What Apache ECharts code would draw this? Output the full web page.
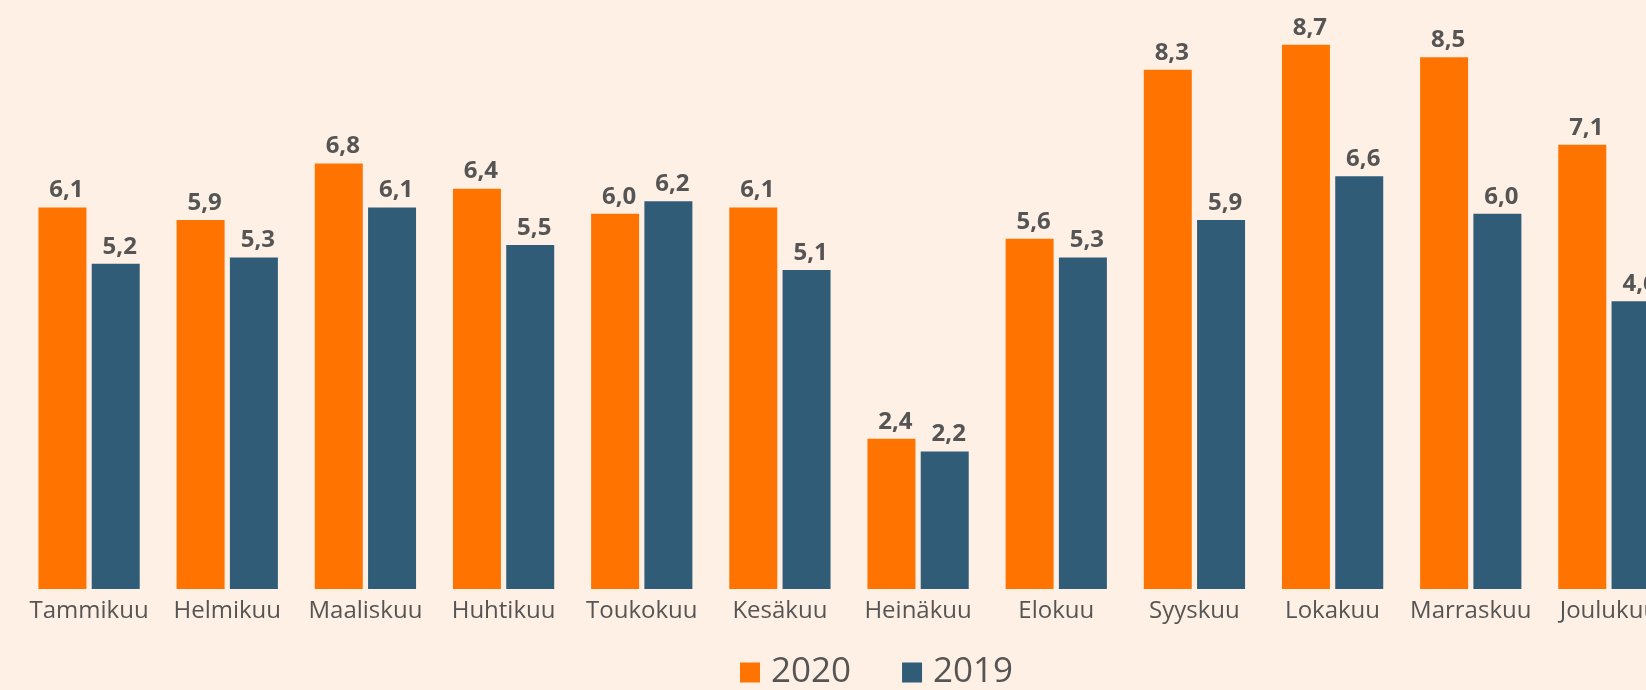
<!DOCTYPE html>
<html>
<head>
<meta charset="utf-8">
<style>
  html, body { margin: 0; padding: 0; background: #fef0e4; }
  #main { width: 1646px; height: 690px; }
</style>
<script src="https://cdn.jsdelivr.net/npm/echarts@6/dist/echarts.min.js"></script>
</head>
<body>
<div id="main"></div>
<script>
// kuukaudet ja arvot
const months = ['Tammikuu', 'Helmikuu', 'Maaliskuu', 'Huhtikuu', 'Toukokuu', 'Kesäkuu',
  'Heinäkuu', 'Elokuu', 'Syyskuu', 'Lokakuu', 'Marraskuu', 'Joulukuu']
const values2020 = [6.1, 5.9, 6.8, 6.4, 6.0, 6.1, 2.4, 5.6, 8.3, 8.7, 8.5, 7.1]
const values2019 = [5.2, 5.3, 6.1, 5.5, 6.2, 5.1, 2.2, 5.3, 5.9, 6.6, 6.0, 4.6]

const textColor = '#555555'
const fontFam = '"Open Sans", sans-serif'

const myChart = echarts.init(document.getElementById('main'))

const labelStyle = {
  show: true,
  position: 'top',
  distance: 5,
  offset: [4, 0],
  color: textColor,
  fontFamily: fontFam,
  fontWeight: 'bold',
  fontSize: 24,
  formatter: p => p.value.toFixed(1).replace('.', ',')
}

myChart.setOption({
  backgroundColor: '#fef0e4',
  animation: false,
  legend: {
    left: 735,
    top: 650,
    itemWidth: 20,
    itemHeight: 20,
    itemGap: 51,
    icon: 'rect',
    textStyle: {
      color: textColor,
      fontFamily: fontFam,
      fontSize: 35,
      padding: [0, 0, 0, 6]
    }
  },
  // kaavio jatkuu oikean reunan yli, kuten alkuperäisessä
  grid: {
    left: 20,
    width: 1658,
    top: 26,
    bottom: 101,
    containLabel: false,
    outerBoundsMode: 'none'
  },
  xAxis: {
    type: 'category',
    data: months,
    axisLine: { show: false },
    axisTick: { show: false },
    axisLabel: {
      color: textColor,
      fontFamily: fontFam,
      fontSize: 24,
      margin: 10,
      interval: 0
    }
  },
  yAxis: {
    type: 'value',
    min: 0,
    max: 9,
    show: false,
    splitLine: { show: false }
  },
  series: [
    {
      name: '2020',
      type: 'bar',
      data: values2020,
      barWidth: 48,
      barGap: '11%',
      itemStyle: { color: '#ff7300' },
      label: labelStyle
    },
    {
      name: '2019',
      type: 'bar',
      data: values2019,
      barWidth: 48,
      itemStyle: { color: '#305c78' },
      label: labelStyle
    }
  ]
})
</script>
</body>
</html>
